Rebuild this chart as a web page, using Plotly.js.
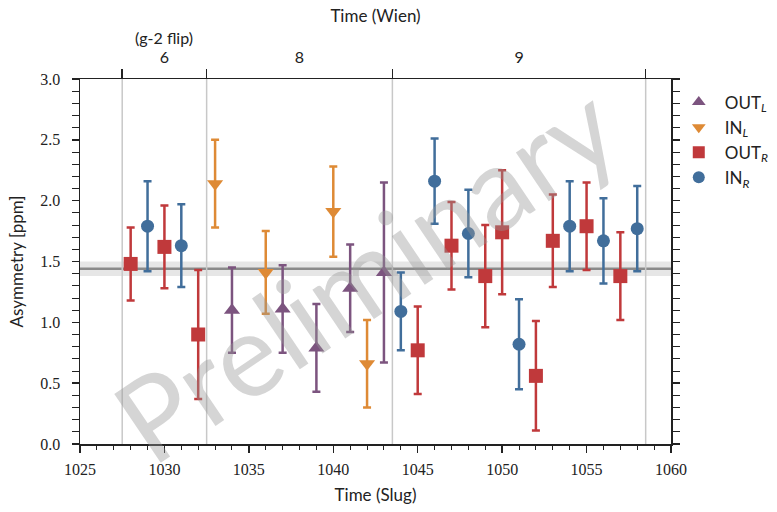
<!DOCTYPE html>
<html>
<head>
<meta charset="utf-8">
<script src="https://cdn.plot.ly/plotly-3.0.1.min.js"></script>
<style>html,body{margin:0;padding:0;background:#fff;}#chart{width:777px;height:512px;}</style>
</head>
<body>
<div id="chart"></div>
<script>
// ---- data ----
const outL_x = [1034, 1037, 1039, 1041, 1043];
const outL_y = [1.10, 1.11, 0.79, 1.28, 1.41];
const outL_err = [0.35, 0.36, 0.36, 0.36, 0.74];

const inL_x = [1033, 1036, 1040, 1042];
const inL_y = [2.14, 1.41, 1.91, 0.66];
const inL_err = [0.36, 0.34, 0.37, 0.36];

const outR_x = [1028, 1030, 1032, 1045, 1047, 1049, 1050, 1052, 1053, 1055, 1057];
const outR_y = [1.48, 1.62, 0.90, 0.77, 1.63, 1.38, 1.74, 0.56, 1.67, 1.79, 1.38];
const outR_err = [0.30, 0.34, 0.53, 0.36, 0.36, 0.42, 0.51, 0.45, 0.38, 0.36, 0.36];

const inR_x = [1029, 1031, 1044, 1046, 1048, 1051, 1054, 1056, 1058];
const inR_y = [1.79, 1.63, 1.09, 2.16, 1.73, 0.82, 1.79, 1.67, 1.77];
const inR_err = [0.37, 0.34, 0.32, 0.35, 0.36, 0.37, 0.37, 0.35, 0.35];

const meanValue = 1.44;
const meanError = 0.06;

const wienBoundaries = [1027.5, 1032.5, 1043.5, 1058.5];
const wienLabels = ['6', '8', '9'];
const wienNote = '(g-2 flip)';

// ---- styling ----
const C = {purple:'#7c547f', orange:'#de8a35', red:'#c0393b', blue:'#416e9b'};
const SANS = 'Lato, "Open Sans", sans-serif';
const SERIF = '"Liberation Serif", "DejaVu Serif", serif';

function series(name, xs, ys, errs, color, symbol, size) {
  return {
    type: 'scatter', mode: 'markers', name: name,
    x: xs, y: ys, xaxis: 'x', yaxis: 'y',
    marker: {color: color, symbol: symbol, size: size, line: {width: 0}},
    error_y: {type: 'data', array: errs, visible: true, color: color, thickness: 2.5, width: 4}
  };
}

const wienCenters = wienLabels.map((_, i) => (wienBoundaries[i] + wienBoundaries[i + 1]) / 2);

const traces = [
  series('OUT<sub><i>L</i></sub>', outL_x, outL_y, outL_err, C.purple, 'triangle-up', 14),
  series('IN<sub><i>L</i></sub>', inL_x, inL_y, inL_err, C.orange, 'triangle-down', 14),
  series('OUT<sub><i>R</i></sub>', outR_x, outR_y, outR_err, C.red, 'square', 14),
  series('IN<sub><i>R</i></sub>', inR_x, inR_y, inR_err, C.blue, 'circle', 13),
  {type:'scatter', mode:'markers', x: wienBoundaries, y: wienBoundaries.map(() => null), xaxis:'x2', yaxis:'y', showlegend:false, hoverinfo:'skip'},
  {type:'scatter', mode:'markers', x: wienCenters, y: wienCenters.map(() => null), xaxis:'x3', yaxis:'y', showlegend:false, hoverinfo:'skip'}
];

const shapes = [
  {type:'rect', xref:'paper', yref:'y', x0:0, x1:1, y0: meanValue - meanError, y1: meanValue + meanError,
   fillcolor:'rgba(200,200,200,0.45)', line:{width:0}, layer:'below'},
  {type:'line', xref:'paper', yref:'y', x0:0, x1:1, y0: meanValue, y1: meanValue,
   line:{color:'#8a8a8a', width:2.5}, layer:'below'}
].concat(wienBoundaries.map(b => ({
  type:'line', xref:'x', yref:'paper', x0:b, x1:b, y0:0, y1:1,
  line:{color:'#c8c8c8', width:1.5}, layer:'below'
})));

const xRange = [1025, 1060];

const layout = {
  width: 777, height: 512,
  margin: {l: 80, r: 106, t: 79, b: 68, autoexpand: false},
  paper_bgcolor: '#fff', plot_bgcolor: '#fff',
  showlegend: true,
  legend: {x: 1.003, y: 0.985, xanchor:'left', yanchor:'top', font:{family: SANS, size: 17, color:'#222'},
           bgcolor:'rgba(0,0,0,0)', tracegroupgap: 0, itemsizing:'constant', itemwidth: 42},
  xaxis: {
    range: xRange, dtick: 5, tick0: 1025, showgrid: false, zeroline: false,
    showline: true, linecolor: '#222', linewidth: 1.5, mirror: false,
    ticks: 'outside', ticklen: 7, tickwidth: 1.5, tickcolor: '#222',
    minor: {dtick: 1, ticks: 'outside', ticklen: 4, tickwidth: 1, tickcolor:'#222', showgrid:false},
    tickfont: {family: SERIF, size: 16, color: '#222'}, ticklabelstandoff: 3,
    title: {text: 'Time (Slug)', font: {family: SANS, size: 17, color: '#222'}, standoff: 12}
  },
  xaxis2: {
    overlaying: 'x', side: 'top', anchor: 'y', range: xRange, matches: 'x',
    tickmode: 'array', tickvals: wienBoundaries, showticklabels: false,
    ticks: 'outside', ticklen: 9, tickwidth: 1.5, tickcolor: '#222',
    showline: true, linecolor: '#222', linewidth: 1.5, showgrid: false, zeroline: false
  },
  xaxis3: {
    overlaying: 'x', side: 'top', anchor: 'y', range: xRange, matches: 'x',
    tickmode: 'array', tickvals: wienCenters, ticktext: wienLabels,
    ticks: '', showline: false, showgrid: false, zeroline: false, ticklabelstandoff: 12,
    tickfont: {family: SANS, size: 16, color: '#222'},
    title: {text: 'Time (Wien)', font: {family: SANS, size: 17, color: '#222'}, standoff: 19}
  },
  yaxis: {
    range: [0, 3], dtick: 0.5, tick0: 0, tickformat: '.1f', showgrid: false, zeroline: false,
    showline: true, linecolor: '#222', linewidth: 1.5, mirror: 'allticks',
    ticks: 'outside', ticklen: 7, tickwidth: 1.5, tickcolor: '#222',
    minor: {dtick: 0.1, ticks: 'outside', ticklen: 4, tickwidth: 1, tickcolor:'#222', showgrid:false},
    tickfont: {family: SERIF, size: 16, color: '#222'}, ticklabelstandoff: 8,
    title: {text: 'Asymmetry [ppm]', font: {family: SANS, size: 17, color: '#222'}, standoff: 12}
  },
  shapes: shapes,
  annotations: [
    {text: wienNote, xref: 'x', yref: 'paper', x: wienCenters[0], y: 1, yshift: 42, showarrow: false,
     xanchor:'center', yanchor:'middle', font: {family: SANS, size: 16, color: '#222'}},
    {text: 'Preliminary', xref: 'paper', yref: 'paper', x: 0.482, y: 0.473, showarrow: false,
     textangle: -34, font: {family: SANS, size: 116, color: 'rgba(150,150,150,0.4)'}}
  ]
};

Plotly.newPlot('chart', traces, layout, {displayModeBar: false, staticPlot: true});
</script>
</body>
</html>
